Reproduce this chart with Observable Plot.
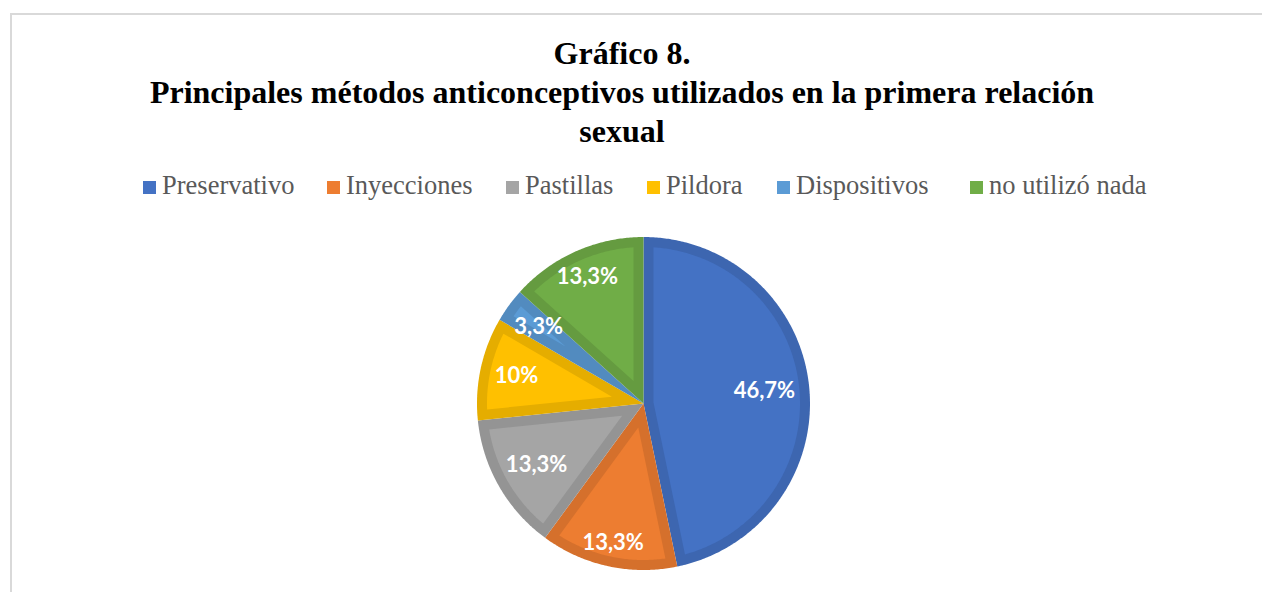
<!DOCTYPE html>
<html><head><meta charset="utf-8">
<script src="https://cdn.jsdelivr.net/npm/d3@7"></script>
<script src="https://cdn.jsdelivr.net/npm/@observablehq/plot@0.6"></script>
<style>
html,body{margin:0;padding:0;background:#fff}
body{width:1262px;height:592px;overflow:hidden;position:relative;font-family:"Liberation Serif","Times New Roman",serif}
#frame{position:absolute;left:10px;top:13px;width:1300px;height:700px;border-left:2px solid #d9d9d9;border-top:2px solid #d9d9d9;box-sizing:border-box}
#title{position:absolute;left:0;width:1244px;top:34px;text-align:center;font-weight:bold;font-size:32px;line-height:39px;color:#000}
.leg{position:absolute;top:171px;font-size:26.5px;line-height:28px;color:#595959;white-space:nowrap}
.sw{display:inline-block;width:13px;height:13px;margin-right:6px;vertical-align:baseline}
#chart{position:absolute;left:463px;top:223px}
</style></head>
<body>
<div id="frame"></div>
<div id="title">Gráfico 8.<br>Principales métodos anticonceptivos utilizados en la primera relación<br>sexual</div>
<div id="legend"></div>
<div id="chart"></div>
<script>
// ---- data ----
const categories = ["Preservativo", "Inyecciones", "Pastillas", "Pildora", "Dispositivos", "no utilizó nada"];
const values = [46.7, 13.3, 13.3, 10, 3.3, 13.3];
const labels = ["46,7%", "13,3%", "13,3%", "10%", "3,3%", "13,3%"];
const colors = ["#4472C4", "#ED7D31", "#A5A5A5", "#FFC000", "#5B9BD5", "#70AD47"];

// ---- layout (not data) ----
const legendLeft = [143, 327, 506, 647, 777, 970];
const labelRadius = [0.73, 0.86, 0.74, 0.78, 0.78, 0.83];
const R_PX = 166.5, BORDER_PX = 10, HALF = 180;

// legend
const leg = document.getElementById("legend");
categories.forEach((c, i) => {
  const d = document.createElement("div");
  d.className = "leg";
  d.style.left = legendLeft[i] + "px";
  d.innerHTML = `<span class="sw" style="background:${colors[i]}"></span>${c}`;
  leg.appendChild(d);
});

// pie geometry in unit-radius data coordinates
const arcs = d3.pie().sort(null).value(d => d)(values);
const dd = BORDER_PX / R_PX;
const pt = (a, r) => ({x: r * Math.sin(a), y: r * Math.cos(a)});
function wedge(a0, a1, r, apexR) {
  const pts = [];
  const bis = (a0 + a1) / 2;
  pts.push(pt(bis, apexR));
  const n = Math.max(4, Math.ceil((a1 - a0) / 0.01));
  for (let k = 0; k <= n; k++) pts.push(pt(a0 + (a1 - a0) * k / n, r));
  return pts;
}
const marks = [];
arcs.forEach((a, i) => {
  const outer = wedge(a.startAngle, a.endAngle, 1, 0);
  const theta = a.endAngle - a.startAngle;
  const delta = Math.asin(dd / (1 - dd));
  const inner = wedge(a.startAngle + delta, a.endAngle - delta, 1 - dd, dd / Math.sin(theta / 2));
  const base = d3.color(colors[i]);
  marks.push(Plot.line(outer, {x: "x", y: "y", curve: "linear-closed", fill: base.darker(0.3).formatHex(), stroke: "none"}));
  marks.push(Plot.line(inner, {x: "x", y: "y", curve: "linear-closed", fill: colors[i], stroke: "none"}));
});
const labelData = arcs.map((a, i) => ({...pt((a.startAngle + a.endAngle) / 2, labelRadius[i]), t: labels[i]}));
marks.push(Plot.text(labelData, {x: "x", y: "y", text: "t", fill: "white", fontSize: 22, fontWeight: "bold", fontFamily: "Lato, 'Open Sans', sans-serif"}));

const lim = HALF / R_PX;
const svg = Plot.plot({
  width: 2 * HALF, height: 2 * HALF,
  margin: 0,
  x: {domain: [-lim, lim], axis: null},
  y: {domain: [-lim, lim], axis: null},
  marks
});
document.getElementById("chart").appendChild(svg);
</script>
</body></html>
